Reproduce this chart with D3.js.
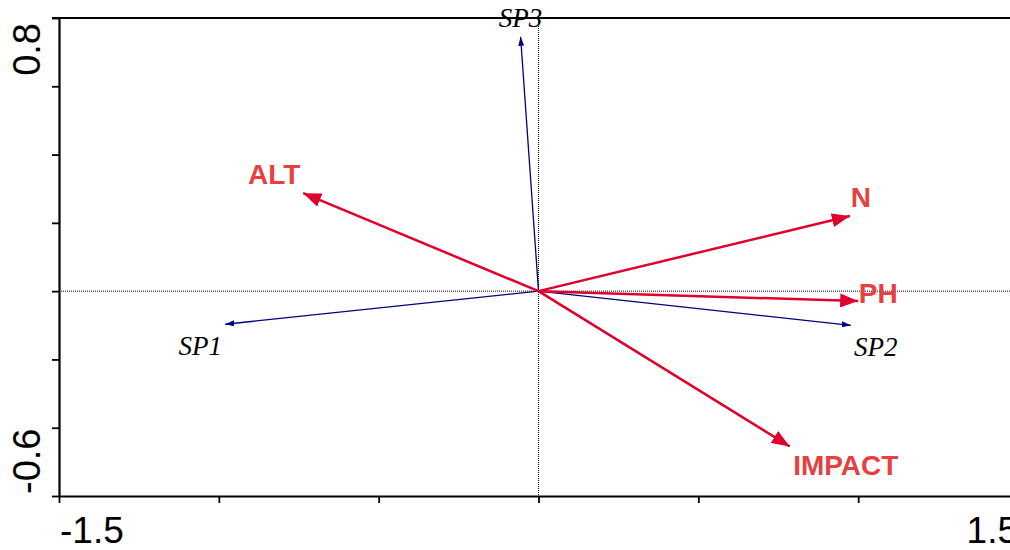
<!DOCTYPE html>
<html>
<head>
<meta charset="utf-8">
<script src="https://cdn.jsdelivr.net/npm/d3@7"></script>
<style>
  html, body { margin: 0; padding: 0; background: #fff; }
  svg { display: block; }
</style>
</head>
<body>
<div id="chart"></div>
<script>
// ── Data ─────────────────────────────────────────────────────────────────
const speciesNames = ["SP1", "SP2", "SP3"];
const speciesX     = [-0.98, 0.977, -0.056];
const speciesY     = [-0.097, -0.10, 0.745];

const envNames = ["ALT", "N", "PH", "IMPACT"];
const envX     = [-0.736, 0.974, 1.0, 0.786];
const envY     = [0.287, 0.22, -0.029, -0.455];

const xTicks = [-1.5, -1.0, -0.5, 0, 0.5, 1.0, 1.5];
const yTicks = [-0.6, -0.4, -0.2, 0, 0.2, 0.4, 0.6, 0.8];
const xTickLabels = ["-1.5", "1.5"];
const yTickLabels = ["-0.6", "0.8"];

// ── Layout ───────────────────────────────────────────────────────────────
const W = 1010, H = 550;
const x = d3.scaleLinear().domain([-1.5, 1.5]).range([59, 1018]);
const y = d3.scaleLinear().domain([-0.6, 0.8]).range([496, 18]);

// label offsets from arrow tips (px)
const labelOff = {
  SP1: [-25, 31], SP2: [25, 31], SP3: [0, -10],
  ALT: [-29, -9], N: [11, -9], PH: [20, 2], IMPACT: [56, 29],
};

const RED = "#e0002b", RED_TXT = "#e8403f", BLUE = "#000080";

const svg = d3.select("#chart").append("svg")
  .attr("width", W).attr("height", H).attr("viewBox", `0 0 ${W} ${H}`);

const defs = svg.append("defs");
defs.append("marker").attr("id", "headRed")
  .attr("markerUnits", "userSpaceOnUse")
  .attr("viewBox", "0 0 18 14").attr("refX", 18).attr("refY", 7)
  .attr("markerWidth", 18).attr("markerHeight", 14).attr("orient", "auto")
  .append("path").attr("d", "M0,0 L18,7 L0,14 Z").attr("fill", RED);
defs.append("marker").attr("id", "headBlue")
  .attr("markerUnits", "userSpaceOnUse")
  .attr("viewBox", "0 0 9 6").attr("refX", 9).attr("refY", 3)
  .attr("markerWidth", 9).attr("markerHeight", 6).attr("orient", "auto")
  .append("path").attr("d", "M0,0 L9,3 L0,6 Z").attr("fill", BLUE);

// ── Zero lines (dotted) ──────────────────────────────────────────────────
svg.append("line")
  .attr("x1", x(-1.5)).attr("x2", x(1.5)).attr("y1", y(0)).attr("y2", y(0))
  .attr("stroke", "#000").attr("stroke-width", 1).attr("stroke-dasharray", "1,1");
svg.append("line")
  .attr("x1", x(0)).attr("x2", x(0)).attr("y1", y(0.8)).attr("y2", y(-0.6))
  .attr("stroke", "#000").attr("stroke-width", 1).attr("stroke-dasharray", "1,1");

// ── Axes ─────────────────────────────────────────────────────────────────
const xAxis = svg.append("g").attr("transform", `translate(0,${y(-0.6)})`)
  .call(d3.axisBottom(x).tickValues(xTicks).tickSize(7).tickSizeOuter(0).tickFormat(""));
const yAxis = svg.append("g").attr("transform", `translate(${x(-1.5)},0)`)
  .call(d3.axisLeft(y).tickValues(yTicks).tickSize(7).tickSizeOuter(0).tickFormat(""));
[xAxis, yAxis].forEach((a) => {
  a.select(".domain").attr("stroke-width", 2.2);
  a.selectAll(".tick line").attr("stroke-width", 1.8);
});
// top frame line
svg.append("line")
  .attr("x1", x(-1.5) - 7).attr("x2", x(1.5)).attr("y1", y(0.8)).attr("y2", y(0.8))
  .attr("stroke", "#000").attr("stroke-width", 2.2);

// tick labels: first anchored at start, last at end (last one runs off the edge, as in the original)
svg.append("text").attr("x", x(-1.5) + 1).attr("y", 543)
  .attr("font-family", "Liberation Sans, Arial, sans-serif").attr("font-size", 37)
  .attr("text-anchor", "start").text(xTickLabels[0]);
svg.append("text").attr("x", x(1.5)).attr("y", 543)
  .attr("font-family", "Liberation Sans, Arial, sans-serif").attr("font-size", 37)
  .attr("text-anchor", "end").text(xTickLabels[1]);
svg.append("text").attr("transform", `translate(40,${y(-0.6) - 2}) rotate(-90)`)
  .attr("font-family", "Liberation Sans, Arial, sans-serif").attr("font-size", 38)
  .attr("text-anchor", "start").text(yTickLabels[0]);
svg.append("text").attr("transform", `translate(40,${y(0.8) + 5}) rotate(-90)`)
  .attr("font-family", "Liberation Sans, Arial, sans-serif").attr("font-size", 38)
  .attr("text-anchor", "end").text(yTickLabels[1]);

// ── Species arrows (blue) ────────────────────────────────────────────────
const species = speciesNames.map((n, i) => ({ name: n, x: speciesX[i], y: speciesY[i] }));
const env = envNames.map((n, i) => ({ name: n, x: envX[i], y: envY[i] }));

svg.append("g").selectAll("line").data(species).join("line")
  .attr("x1", x(0)).attr("y1", y(0))
  .attr("x2", (d) => x(d.x)).attr("y2", (d) => y(d.y))
  .attr("stroke", BLUE).attr("stroke-width", 1.3)
  .attr("marker-end", "url(#headBlue)");

svg.append("g").selectAll("text").data(species).join("text")
  .attr("x", (d) => x(d.x) + labelOff[d.name][0])
  .attr("y", (d) => y(d.y) + labelOff[d.name][1])
  .attr("text-anchor", "middle")
  .attr("font-family", "Liberation Serif, Times New Roman, serif")
  .attr("font-style", "italic").attr("font-size", 27)
  .attr("fill", "#000").text((d) => d.name);

// ── Environmental arrows (red) ───────────────────────────────────────────
svg.append("g").selectAll("line").data(env).join("line")
  .attr("x1", x(0)).attr("y1", y(0))
  .attr("x2", (d) => x(d.x)).attr("y2", (d) => y(d.y))
  .attr("stroke", RED).attr("stroke-width", 2.5)
  .attr("marker-end", "url(#headRed)");

svg.append("g").selectAll("text").data(env).join("text")
  .attr("x", (d) => x(d.x) + labelOff[d.name][0])
  .attr("y", (d) => y(d.y) + labelOff[d.name][1])
  .attr("text-anchor", "middle")
  .attr("font-family", "Liberation Sans, Arial, sans-serif")
  .attr("font-weight", "bold").attr("font-size", 28)
  .attr("fill", RED_TXT).text((d) => d.name);
</script>
</body>
</html>
